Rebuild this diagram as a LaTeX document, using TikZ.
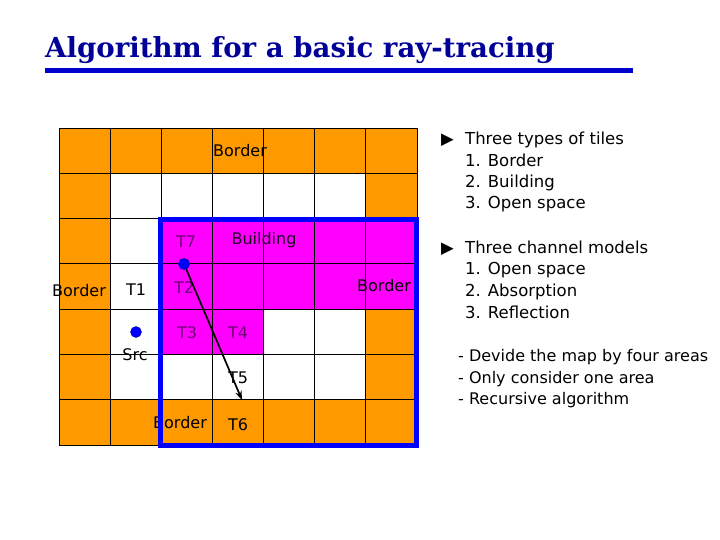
\documentclass[tikz,border=0pt]{standalone}
\usepackage{fontspec}
\setmainfont{DejaVu Sans}
\newfontfamily\titlefont{DejaVu Serif}
\usetikzlibrary{arrows.meta}
\definecolor{tileorange}{RGB}{255,153,0}
\definecolor{tilemagenta}{RGB}{255,0,255}
\definecolor{titleblue}{RGB}{0,0,153}
\definecolor{lineblue}{RGB}{0,0,204}
\definecolor{tlabel}{RGB}{110,0,120}

\begin{document}
\begin{tikzpicture}[x=1pt,y=-1pt,
  lbl/.style={font=\fontsize{16}{18}\selectfont, inner sep=0pt},
  tlbl/.style={lbl, text=tlabel},
  txt/.style={anchor=base west, font=\fontsize{16.5}{19}\selectfont, inner sep=0pt},
  dot/.style={circle, fill=blue, draw=blue!60!black, minimum size=11pt, inner sep=0pt}]
\useasboundingbox (0,0) rectangle (720,540);

% title
\node[anchor=base west, inner sep=0pt, text=titleblue, font=\titlefont\bfseries\fontsize{27.6}{32}\selectfont] (title) at (45,58) {Algorithm for a basic ray-tracing};
\fill[lineblue] (45,68) rectangle (633,73);

% tiles (one unit = one tile)
\begin{scope}[shift={(59,128)}, x=51.14pt, y=-45.29pt]
\fill[tileorange] (0,0) rectangle (7,7);
\fill[white] (1,1) rectangle (6,2);
\fill[white] (1,2) rectangle (2,6);
\fill[white] (2,5) rectangle (4,6);
\fill[white] (4,4) rectangle (6,6);
\fill[tilemagenta] (2,2) rectangle (7,4);
\fill[tilemagenta] (2,4) rectangle (4,5);
\foreach \i in {0,...,7} {
  \draw[black, line width=0.9pt] (\i,0) -- (\i,7);
  \draw[black, line width=0.9pt] (0,\i) -- (7,\i);
}
\end{scope}

% tile labels
\node[lbl] (bordertop) at (240,151) {Border};
\node[lbl] (borderleft) at (79,291) {Border};
\node[lbl] (borderright) at (384,286) {Border};
\node[lbl] (borderbottom) at (180,423) {Border};
\node[lbl, text=black!70!tlabel] (building) at (264,240) {Building};
\node[lbl] (t1) at (136,290) {T1};
\node[tlbl] (t7) at (186,242) {T7};
\node[tlbl] (t2) at (184,288) {T2};
\node[tlbl] (t3) at (187,333) {T3};
\node[tlbl] (t4) at (238,333) {T4};
\node[lbl] (t5) at (238,378) {T5};
\node[lbl] (t6) at (238,425) {T6};
\node[lbl] (src) at (135,355) {Src};

% area frame
\draw[blue, line width=5pt] (160.5,219.5) rectangle (416.5,445.5);

% ray
\node[dot] (srcdot) at (136,332) {};
\node[dot] (raydot) at (184,264) {};
\coordinate (rayend) at (242,400);
\draw[-{Stealth[length=9pt,width=6.5pt]}, line width=1.7pt] (raydot) -- (rayend);
\node[dot] at (raydot) {};

% notes
\node[txt] (arr1) at (441,145) {▶};
\node[txt] (types) at (465,145) {Three types of tiles};
\node[txt] (types1) at (465,167) {1. Border};
\node[txt] (types2) at (465,188) {2. Building};
\node[txt] (types3) at (465,209) {3. Open space};
\node[txt] (arr2) at (441,253) {▶};
\node[txt] (models) at (465,253) {Three channel models};
\node[txt] (models1) at (465,274) {1. Open space};
\node[txt] (models2) at (465,296) {2. Absorption};
\node[txt] (models3) at (465,318) {3. Reflection};
\node[txt, font=\fontsize{16}{19}\selectfont] (note1) at (458,361) {- Devide the map by four areas};
\node[txt, font=\fontsize{16}{19}\selectfont] (note2) at (458,383) {- Only consider one area};
\node[txt, font=\fontsize{16}{19}\selectfont] (note3) at (458,404) {- Recursive algorithm};
\end{tikzpicture}
\end{document}
